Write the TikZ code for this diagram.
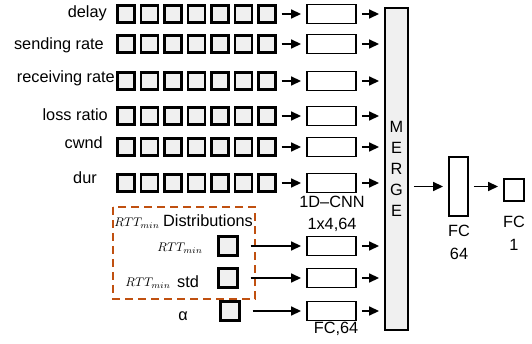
\documentclass[tikz,border=0pt]{standalone}
\usepackage{graphicx}
\usepackage{fontspec}
\setmainfont{Liberation Sans}
\usetikzlibrary{arrows.meta,positioning,calc}
\definecolor{cellgray}{RGB}{240,240,240}
\definecolor{distorange}{RGB}{192,80,16}
\newcommand{\rttmin}{\scalebox{1.25}{$RTT_{min}$}}

\begin{document}
\begin{tikzpicture}[x=1pt, y=-1pt,
  cell/.style={draw, line width=2.2pt, fill=cellgray, minimum size=17pt, inner sep=0pt},
  layer/.style={draw, line width=1.9pt, fill=white, minimum width=49pt, minimum height=19pt, inner sep=0pt},
  arr/.style={-{Triangle[length=10pt,width=9pt]}, line width=1.6pt, shorten <=5pt, shorten >=5pt},
  lbl/.style={font=\fontsize{16.3}{19}\selectfont, inner sep=0pt},
  mth/.style={font=\normalsize, inner sep=0pt},
]
\useasboundingbox (0,0) rectangle (532,344);

\node[draw, line width=1.9pt, fill=cellgray, minimum width=23pt, minimum height=322pt,
  inner sep=0pt, align=center, font=\fontsize{16.3}{21}\selectfont] (merge) at (396.5,169) {M\\E\\R\\G\\E};

% input sequences
\foreach \r/\y in {1/14,2/44,3/81,4/116,5/147,6/183}{
  \foreach \i in {1,...,7}
    \node[cell] (c\r-\i) at ({126+23.5*(\i-1)},\y) {};
  \node[layer] (cnn\r) at (331.5,\y) {};
  \draw[arr] (c\r-7) -- (cnn\r);
  \draw[arr] (cnn\r) -- (cnn\r -| merge.west);
}

\node[lbl, anchor=east] (l-delay) at (107,13) {delay};
\node[lbl, anchor=east] (l-send) at (104,45) {sending rate};
\node[lbl, anchor=east] (l-recv) at (115,78) {receiving rate};
\node[lbl, anchor=east] (l-loss) at (108,115) {loss ratio};
\node[lbl, anchor=east] (l-cwnd) at (103,143) {cwnd};
\node[lbl, anchor=east] (l-dur) at (97,178) {dur};

\node[lbl] (cnn-name) at (332,202) {1D--CNN};
\node[lbl] (cnn-size) at (332,225) {1x4,64};

% scalar inputs
\draw[distorange, line width=1.8pt, dash pattern=on 8pt off 5pt] (113,207) rectangle (255,299);
\node[cell, minimum size=19pt] (rtt) at (228,246) {};
\node[cell, minimum size=19pt] (std) at (228,278) {};
\node[cell, minimum size=19pt] (alpha) at (230,311) {};
\foreach \s/\n in {rtt/1,std/2,alpha/3}{
  \node[layer] (fc\n) at (331.5,0 |- \s) {};
  \draw[arr, shorten <=12pt] (\s) -- (fc\n);
  \draw[arr] (fc\n) -- (fc\n -| merge.west);
}

\node[mth] (t0) at (137,223) {\rttmin};
\node[lbl] (dist) at (208,221) {Distributions};
\node[mth] (t1) at (180,248) {\rttmin};
\node[mth] (t2) at (148,283) {\rttmin};
\node[lbl] (std-l) at (188,282) {std};
\node[lbl] (alpha-l) at (183,316) {α};
\node[lbl] (fc-name) at (336,329) {FC,64};

% output layers
\node[draw, line width=1.9pt, fill=white, minimum width=19pt, minimum height=59pt, inner sep=0pt] (fc64) at (458.5,186.5) {};
\node[draw, line width=1.9pt, fill=white, minimum width=20pt, minimum height=22pt, inner sep=0pt] (out) at (514,190) {};
\draw[arr] (merge.east |- fc64) -- (fc64);
\draw[arr] (fc64) -- (fc64 -| out.west);

\node[lbl] (fc64-a) at (459,231) {FC};
\node[lbl] (fc64-b) at (459,254) {64};
\node[lbl] (out-a) at (514,222) {FC};
\node[lbl] (out-b) at (514,245) {1};
\end{tikzpicture}
\end{document}
